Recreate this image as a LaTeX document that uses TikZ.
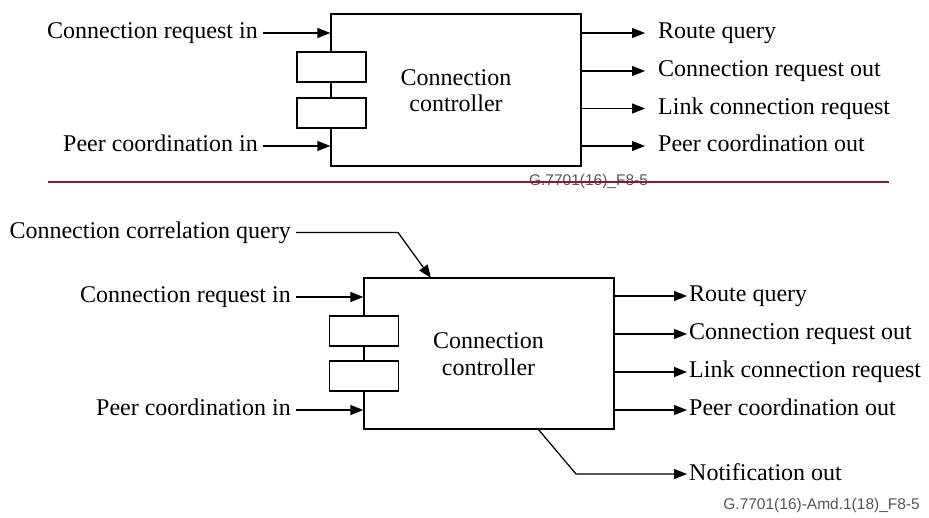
\documentclass[tikz,border=0pt]{standalone}
\usepackage{fontspec}
\setmainfont{Liberation Serif}
\newfontfamily\figsans{Liberation Sans}
\usetikzlibrary{arrows.meta}
\definecolor{sepred}{RGB}{140,26,44}
\definecolor{idgray}{RGB}{85,85,85}
\tikzset{
  ln/.style={line width=1.25pt, draw=black},
  arr/.style={ln, -{Triangle[length=13pt,width=10pt]}},
  mainbox/.style={ln, rectangle, minimum width=250pt, inner sep=0pt},
  smallbox/.style={ln, rectangle, fill=white, minimum width=69pt, minimum height=30pt, inner sep=0pt},
  boxtext/.style={align=center, font=\fontsize{24}{26.5}\selectfont, inner sep=0pt},
  lbl/.style={inner ysep=0pt, text height=17pt, text depth=5pt, font=\fontsize{24}{28}\selectfont},
  lblL/.style={lbl, anchor=east, inner xsep=5pt},
  lblR/.style={lbl, anchor=west, inner xsep=13pt},
  lblRb/.style={lbl, anchor=west, inner xsep=2pt},
  figid/.style={text=idgray, font=\figsans\fontsize{15.5}{18}\selectfont, inner sep=0pt},
  sepline/.style={draw=sepred, line width=2.6pt}
}
\begin{document}
\begin{tikzpicture}[x=1pt, y=-1pt]
\useasboundingbox (0,0) rectangle (929,518);

% ---------- top figure ----------
\node[mainbox, minimum height=152pt] (tbox) at (456,90) {};
\node[smallbox] (ts1) at (331.5,67) {};
\node[smallbox] (ts2) at (331.5,113) {};
\node[boxtext] (ttxt) at (456,90.5) {Connection\\controller};

\node[lblL] (tcri) at (263,33) {Connection request in};
\node[lblL] (tpci) at (263,146) {Peer coordination in};
\draw[arr] (tcri.east) -- (tcri.east -| tbox.west);
\draw[arr] (tpci.east) -- (tpci.east -| tbox.west);

\node[lblR] (trq) at (645,33) {Route query};
\node[lblR] (tcro) at (645,71) {Connection request out};
\node[lblR] (tlcr) at (645,108.5) {Link connection request};
\node[lblR] (tpco) at (645,146) {Peer coordination out};
\draw[arr] (trq.west -| tbox.east) -- (trq.west);
\draw[arr] (tcro.west -| tbox.east) -- (tcro.west);
\draw[arr] (tlcr.west -| tbox.east) -- (tlcr.west);
\draw[arr] (tpco.west -| tbox.east) -- (tpco.west);

\node[figid] (tid) at (588.5,181) {G.7701(16)\_F8-5};
\draw[sepline] (48,182) -- (889,182);

% ---------- bottom figure ----------
\node[mainbox, minimum height=151pt] (bbox) at (489,353.5) {};
\node[smallbox] (bs1) at (364,331) {};
\node[smallbox] (bs2) at (364,376) {};
\node[boxtext] (btxt) at (488.5,354) {Connection\\controller};

\node[lblL] (bccq) at (296,232.5) {Connection correlation query};
\coordinate (bccqk) at (398,232.5);
\coordinate (bccqt) at (431,278);
\draw[arr] (bccq.east) -- (bccqk) -- (bccqt);

\node[lblL] (bcri) at (296,297) {Connection request in};
\node[lblL] (bpci) at (296,410) {Peer coordination in};
\draw[arr] (bcri.east) -- (bcri.east -| bbox.west);
\draw[arr] (bpci.east) -- (bpci.east -| bbox.west);

\node[lblRb] (brq) at (687,296) {Route query};
\node[lblRb] (bcro) at (687,334) {Connection request out};
\node[lblRb] (blcr) at (687,372) {Link connection request};
\node[lblRb] (bpco) at (687,410) {Peer coordination out};
\draw[arr] (brq.west -| bbox.east) -- (brq.west);
\draw[arr] (bcro.west -| bbox.east) -- (bcro.west);
\draw[arr] (blcr.west -| bbox.east) -- (blcr.west);
\draw[arr] (bpco.west -| bbox.east) -- (bpco.west);

\node[lblRb] (bnfo) at (687,474) {Notification out};
\coordinate (bnfa) at (538,429);
\coordinate (bnfb) at (576,474);
\draw[arr] (bnfa) -- (bnfb) -- (bnfo.west);

\node[figid, anchor=east] (bid) at (920,505) {G.7701(16)-Amd.1(18)\_F8-5};
\end{tikzpicture}
\end{document}
